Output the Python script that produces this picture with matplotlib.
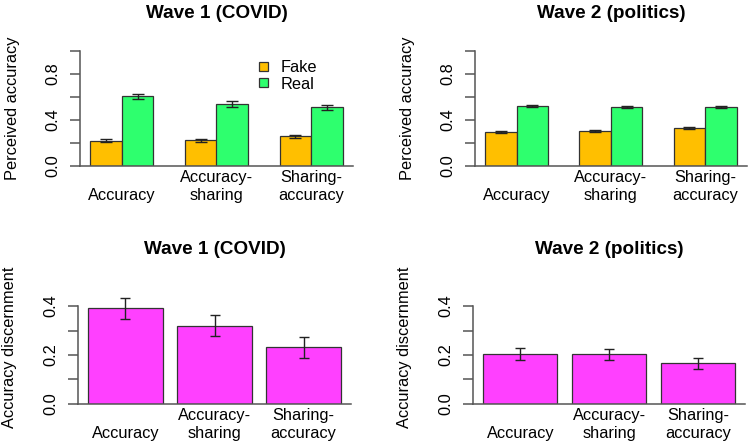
import numpy as np
import matplotlib
matplotlib.use('Agg')
import matplotlib.pyplot as plt

plt.rcParams['font.family'] = ['Liberation Sans', 'DejaVu Sans']

# data
conditions = ['\nAccuracy', 'Accuracy-\nsharing', 'Sharing-\naccuracy']
w1_fake = [0.218, 0.221, 0.256]
w1_real = [0.605, 0.538, 0.509]
w1_fake_err = [0.015, 0.015, 0.016]
w1_real_err = [0.022, 0.022, 0.022]
w2_fake = [0.296, 0.303, 0.329]
w2_real = [0.523, 0.509, 0.509]
w2_fake_err = [0.008, 0.008, 0.008]
w2_real_err = [0.008, 0.008, 0.008]
w1_disc = [0.391, 0.320, 0.231]
w1_disc_err = [0.042, 0.043, 0.044]
w2_disc = [0.205, 0.202, 0.165]
w2_disc_err = [0.024, 0.021, 0.022]

titles = ['Wave 1 (COVID)', 'Wave 2 (politics)']
c_fake = '#FFBF00'
c_real = '#2EFF6E'
c_disc = '#FF40FF'
edge = '#333333'
axcol = '#555555'
fs = 11.8

W, H = 750, 444
fig = plt.figure(figsize=(W / 100, H / 100), dpi=100)

def px_axes(left, right, bottom, top):
    return fig.add_axes([left / W, 1 - bottom / H, (right - left) / W, (bottom - top) / H])

def style(ax, ymax, ticks, labels):
    for s in ['top', 'right']:
        ax.spines[s].set_visible(False)
    ax.spines['left'].set_bounds(0, ymax)
    ax.spines['left'].set_color(axcol)
    ax.spines['bottom'].set_color(axcol)
    ax.spines['left'].set_linewidth(1.1)
    ax.spines['bottom'].set_linewidth(1.1)
    ax.set_yticks(ticks)
    ax.set_yticklabels(labels, rotation=90, va='center', fontsize=fs)
    ax.tick_params(axis='y', length=7.2, width=1.1, color=axcol, pad=7)
    ax.tick_params(axis='x', length=0, pad=3.0, labelsize=fs)
    for t in ax.get_xticklabels():
        t.set_linespacing(1.3)

top_ticks = [0, 0.2, 0.4, 0.6, 0.8, 1.0]
top_labels = ['0.0', '', '0.4', '', '0.8', '']
bot_ticks = [0, 0.1, 0.2, 0.3, 0.4]
bot_labels = ['0.0', '', '0.2', '', '0.4']

# top row: grouped bars
grp = np.array([1, 4, 7])
top_specs = [
    (80, 353, w1_fake, w1_real, w1_fake_err, w1_real_err),
    (475, 746.7, w2_fake, w2_real, w2_fake_err, w2_real_err),
]
top_axes = []
for i, (l, r, fk, rl, fe, re) in enumerate(top_specs):
    ax = px_axes(l, r, 165.7, 51)
    ax.bar(grp, fk, width=1, align='edge', color=c_fake, edgecolor=edge, linewidth=0.9, label='Fake')
    ax.bar(grp + 1, rl, width=1, align='edge', color=c_real, edgecolor=edge, linewidth=0.9, label='Real')
    ax.errorbar(grp + 0.5, fk, yerr=fe, fmt='none', ecolor='#222222', elinewidth=1, capsize=4.3, capthick=1)
    ax.errorbar(grp + 1.5, rl, yerr=re, fmt='none', ecolor='#222222', elinewidth=1, capsize=4.3, capthick=1)
    ax.set_xlim(0.68, 9.32)
    ax.set_ylim(0, 1.0)
    ax.set_xticks(grp + 1)
    ax.set_xticklabels(conditions)
    style(ax, 1.0, top_ticks, top_labels)
    top_axes.append(ax)
    fig.text((l + r) / 2 / W, 1 - 13 / H, titles[i], ha='center', va='center',
             fontsize=13.6, fontweight='bold')
    fig.text((12.7 + (395 if i else 0)) / W, 1 - 108.3 / H, 'Perceived accuracy', rotation=90,
             ha='center', va='center', fontsize=fs)

leg = top_axes[0].legend(loc='upper left', bbox_to_anchor=(259 / W, 1 - 60 / H),
                         bbox_transform=fig.transFigure, frameon=False, fontsize=fs,
                         handlelength=0.55, handleheight=0.45, handletextpad=0.75,
                         labelspacing=0.1, borderpad=0, borderaxespad=0)

# bottom row: discernment
pos = np.array([0.2, 1.4, 2.6])
bot_specs = [
    (78.3, 350.8, w1_disc, w1_disc_err),
    (473.3, 745, w2_disc, w2_disc_err),
]
for i, (l, r, d, de) in enumerate(bot_specs):
    ax = px_axes(l, r, 403.7, 293.9)
    ax.bar(pos, d, width=1, align='edge', color=c_disc, edgecolor=edge, linewidth=0.9)
    ax.errorbar(pos + 0.5, d, yerr=de, fmt='none', ecolor='#222222', elinewidth=1, capsize=3.8, capthick=1)
    ax.set_xlim(0.064, 3.736)
    ax.set_ylim(0, 0.45)
    ax.set_xticks(pos + 0.5)
    ax.set_xticklabels(conditions)
    style(ax, 0.4, bot_ticks, bot_labels)
    fig.text((l + r) / 2 / W, 1 - 249 / H, titles[i], ha='center', va='center',
             fontsize=13.6, fontweight='bold')
    fig.text((10 + (395 if i else 0)) / W, 1 - 347 / H, 'Accuracy discernment', rotation=90,
             ha='center', va='center', fontsize=fs)

fig.savefig('out.png', dpi=100)
